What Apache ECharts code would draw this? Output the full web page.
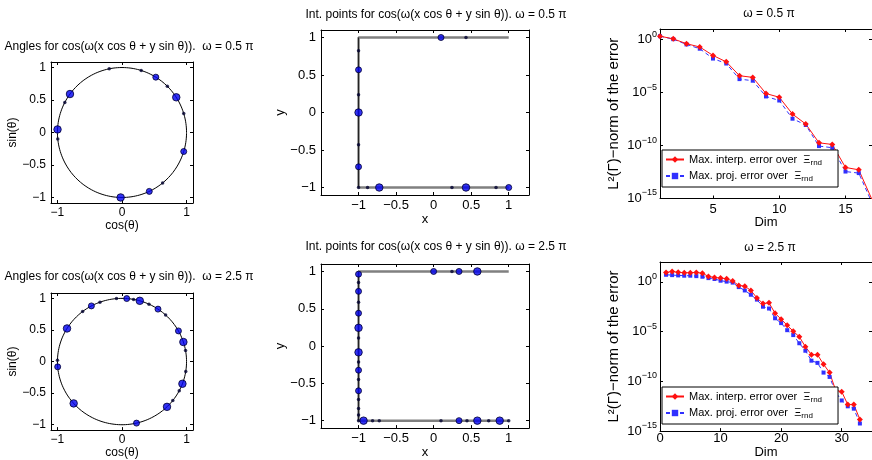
<!DOCTYPE html>
<html><head><meta charset="utf-8">
<script src="https://cdn.jsdelivr.net/npm/echarts@6/dist/echarts.min.js"></script>
<style>html,body{margin:0;padding:0;background:#fff}#c{width:872px;height:460px}</style>
</head><body><div id="c"></div>
<script>
// ---------------- data ----------------
// angles (degrees) of the selected directions, omega = 0.5 pi
const anglesLowLarge  = [143.7, 32.8, 177.3, -91.2];
const anglesLowMedium = [58.4, -17, -65];
const anglesLowSmall  = [101.4, 72.7, 45.4, 17, -51, 152.4, 185.7];
// omega = 2.5 pi
const anglesHighLarge  = [74, 18, -20.6, -45.8, -138.5, 148.4];
const anglesHighMedium = [118.3, 85.8, 56.1, 29, -77, 184.8];
const anglesHighSmall  = [127.6, 110, 94.9, 79.7, 65.3, 47.5, 10.1, -9, -27.5, -38.1, 178.8];

// boundary of the domain (Gamma)
const boundary     = [[1, 1], [-1, 1], [-1, -1], [1, -1]];
const boundaryLeft = [[-1, 1], [-1, -1]];

// interpolation points, omega = 0.5 pi
const ptsLowLarge  = [[-0.724, -1], [0.431, -1], [-1, 0]];
const ptsLowMedium = [[0.098, 1], [-1, 0.569], [-1, -0.724], [1, -1]];
const ptsLowSmall  = [[0.431, 1], [-1, 0.822], [-1, 0.236], [-1, -0.431], [-1, -1], [0.831, -1], [0.244, -1], [-0.88, -1]];
// interpolation points, omega = 2.5 pi
const ptsHighLarge  = [[-1, 0.244], [-1, -0.084], [-0.933, -1], [0.582, -1], [0.88, -1], [0.582, 1]];
const ptsHighMedium = [[-1, 0.964], [-1, 0.733], [-1, 0.44], [-1, -0.324], [-1, -0.6], [0, 1], [0.338, 1], [0.338, -1]];
const ptsHighSmall  = [[-1, 0.853], [-1, 0.587], [-1, 0.107], [-1, -0.213], [-1, -0.449], [-1, -0.716], [-1, -0.836], [-1, -0.924], [-1, -1], [-0.813, -1], [-0.724, -1], [0.098, -1], [0.444, -1], [0.733, -1], [1, -1], [0.244, 1]];

// error curves, omega = 0.5 pi
const dimLow    = [1, 2, 3, 4, 5, 6, 7, 8, 9, 10, 11, 12, 13, 14, 15, 16, 17];
const interpLow = [2.1, 1.17, 0.41, 0.2, 0.032, 0.0079, 3.9e-4, 2.7e-4, 8.1e-6, 3.6e-6, 9.3e-8, 1.07e-8, 1.8e-10, 1.26e-10, 8.5e-13, 5.1e-13, 7.9e-16];
const projLow   = [2.1, 1.1, 0.35, 0.138, 0.0162, 0.0055, 1.86e-4, 1.32e-4, 4.3e-6, 1.78e-6, 3.4e-8, 8.7e-9, 8.9e-11, 6.2e-11, 3.5e-13, 2.5e-13, 4e-16];
// error curves, omega = 2.5 pi
const dimHigh    = [1, 2, 3, 4, 5, 6, 7, 8, 9, 10, 11, 12, 13, 14, 15, 16, 17, 18, 19, 20, 21, 22, 23, 24, 25, 26, 27, 28, 29, 30, 31, 32, 33];
const interpHigh = [8.8, 11, 9.3, 8.3, 8.3, 8.8, 7.6, 3.5, 2.8, 2.4, 2.1, 1.23, 0.44, 0.37, 0.138, 0.0245, 0.0066, 0.0079, 6.9e-4, 1.8e-4, 4.3e-5, 1.1e-5, 3.0e-6, 3.1e-7, 4.8e-8, 4.8e-8, 5.2e-9, 7.6e-10, 1.26e-11, 9.3e-12, 4.6e-13, 4.6e-13, 1.5e-14];
const projHigh   = [5.2, 4.8, 4.5, 4.2, 4.2, 3.8, 3.3, 2.4, 1.95, 1.32, 1.07, 0.85, 0.3, 0.138, 0.051, 0.0166, 0.0032, 0.0021, 2.2e-4, 7.2e-5, 1.4e-5, 4.5e-6, 6.8e-7, 1.2e-7, 1.2e-8, 7.2e-9, 7.6e-10, 2.8e-10, 7.9e-12, 1.2e-12, 3.1e-13, 1.8e-13, 5.8e-15];

// tick values
const circTicksX = [-1, 0, 1];
const circTicksY = [-1, -0.5, 0, 0.5, 1];
const boxTicks   = [-1, -0.5, 0, 0.5, 1];
const dimLowTicks  = [5, 10, 15];
const dimHighTicks = [0, 10, 20, 30];
const logTicks = [1e-15, 1e-10, 1e-5, 1];

const titleTexts = [
  'Angles for cos(ω(x cos θ + y sin θ)).  ω = 0.5 π',
  'Int. points for cos(ω(x cos θ + y sin θ)). ω = 0.5 π',
  'ω = 0.5 π',
  'Angles for cos(ω(x cos θ + y sin θ)).  ω = 2.5 π',
  'Int. points for cos(ω(x cos θ + y sin θ)). ω = 2.5 π',
  'ω = 2.5 π'
];
const nameInterp = 'Max. interp. error over  Ξ';
const nameProj   = 'Max. proj. error over  Ξ';

// ---------------- helpers ----------------
const FONT = '"Liberation Sans", Arial, sans-serif';
const toPoints = degs => degs.map(d => [Math.cos(d * Math.PI / 180), Math.sin(d * Math.PI / 180)]);
const unitCircle = toPoints(Array.from({length: 361}, (_, i) => i));
const minusFmt = v => (v < 0 ? '−' + String(-v) : String(v));
const logFmt = v => {
  const e = v <= 0 ? v : Math.round(Math.log10(v));
  return '{b|10}{e|' + (e < 0 ? '−' + (-e) : e) + '}';
};
const tickStyle = (ticks) => ({show: true, inside: true, length: 3, customValues: ticks, lineStyle: {color: '#000', width: 1}});
const lineAx = {show: true, onZero: false, lineStyle: {color: '#000', width: 1}};

function xPair(g, base, ticks, fmt, fs, margin, name, nameGap, rich, nameFs) {
  const common = Object.assign({gridIndex: g, splitLine: {show: false}, axisLine: lineAx}, base);
  return [
    Object.assign({}, common, {
      position: 'bottom', name: name, nameLocation: 'middle', nameGap: nameGap,
      nameTextStyle: {fontFamily: FONT, fontSize: nameFs || fs, color: '#000'},
      axisTick: tickStyle(ticks),
      axisLabel: {show: true, customValues: ticks, formatter: fmt, margin: margin, color: '#000', fontFamily: FONT, fontSize: fs, rich: rich}
    }),
    Object.assign({}, common, {position: 'top', axisTick: tickStyle(ticks), axisLabel: {show: false}})
  ];
}
function yPair(g, base, ticks, fmt, fs, margin, name, nameGap, rich, nameFs) {
  const common = Object.assign({gridIndex: g, splitLine: {show: false}, axisLine: lineAx}, base);
  return [
    Object.assign({}, common, {
      position: 'left', name: name, nameLocation: 'middle', nameGap: nameGap,
      nameTextStyle: {fontFamily: FONT, fontSize: nameFs || fs, color: '#000'},
      axisTick: tickStyle(ticks),
      axisLabel: {show: true, customValues: ticks, formatter: fmt, margin: margin, color: '#000', fontFamily: FONT, fontSize: fs, rich: rich}
    }),
    Object.assign({}, common, {position: 'right', axisTick: tickStyle(ticks), axisLabel: {show: false}})
  ];
}

const logRich = {
  b: {fontFamily: FONT, fontSize: 13, color: '#000', lineHeight: 20, verticalAlign: 'middle'},
  e: {fontFamily: FONT, fontSize: 9, color: '#000', verticalAlign: 'top'}
};

const grids = [
  {left: 51,  top: 62,  width: 142, height: 141},
  {left: 321, top: 30,  width: 208, height: 165},
  {left: 660, top: 29,  width: 220, height: 169.5},
  {left: 51,  top: 293, width: 142, height: 140},
  {left: 321, top: 264, width: 208, height: 165},
  {left: 660, top: 262, width: 225, height: 172.5}
];

const circX = {type: 'value', min: -1.1, max: 1.1};
const circY = {type: 'value', min: -1.085, max: 1.085};
const boxX = {type: 'value', min: -1.5, max: 1.27};
const boxY = {type: 'value', min: -1.1, max: 1.1};
const logYLow = {type: 'log', logBase: 10, min: 1e-15, max: 10};
const logYHigh = {type: 'log', logBase: 10, min: 1e-15, max: 100};

const xAxes = [].concat(
  xPair(0, circX, circTicksX, minusFmt, 12, 4, 'cos(θ)', 14),
  xPair(1, boxX, boxTicks, minusFmt, 13, 4, 'x', 17),
  xPair(2, {type: 'value', min: 1, max: 17}, dimLowTicks, minusFmt, 13, 4, 'Dim', 13),
  xPair(3, circX, circTicksX, minusFmt, 12, 4, 'cos(θ)', 14),
  xPair(4, boxX, boxTicks, minusFmt, 13, 4, 'x', 16),
  xPair(5, {type: 'value', min: 0, max: 35}, dimHighTicks, minusFmt, 13, 1, 'Dim', 9)
);
const yAxes = [].concat(
  yPair(0, circY, circTicksY, minusFmt, 12, 5, 'sin(θ)', 31),
  yPair(1, boxY, boxTicks, minusFmt, 13, 5, 'y', 32),
  yPair(2, logYLow, logTicks, logFmt, 13, 3, 'L²(Γ)−norm of the error', 39, logRich, 15),
  yPair(3, circY, circTicksY, minusFmt, 12, 5, 'sin(θ)', 31),
  yPair(4, boxY, boxTicks, minusFmt, 13, 5, 'y', 32),
  yPair(5, logYHigh, logTicks, logFmt, 13, 3, 'L²(Γ)−norm of the error', 39, logRich, 15)
);

const ax = g => ({xAxisIndex: 2 * g, yAxisIndex: 2 * g});
const large  = {symbol: 'circle', symbolSize: 7.5, itemStyle: {color: '#0000f0', borderColor: '#000033', borderWidth: 1}};
const medium = {symbol: 'circle', symbolSize: 6,   itemStyle: {color: '#0000f0', borderColor: '#000033', borderWidth: 1}};
const small  = {symbol: 'circle', symbolSize: 3.5, itemStyle: {color: '#000030'}};
function scatter(g, data, style) {
  return Object.assign({type: 'scatter', data: data, silent: true, z: 5}, ax(g), style);
}
function circlePanel(g, L, M, S) {
  return [
    Object.assign({type: 'line', data: unitCircle, showSymbol: false, silent: true, lineStyle: {color: '#000', width: 1}}, ax(g)),
    scatter(g, toPoints(S), small), scatter(g, toPoints(M), medium), scatter(g, toPoints(L), large)
  ];
}
function boxPanel(g, L, M, S) {
  return [
    Object.assign({type: 'line', data: boundary, showSymbol: false, silent: true, lineStyle: {color: '#808080', width: 2.5}}, ax(g)),
    Object.assign({type: 'line', data: boundaryLeft, showSymbol: false, silent: true, lineStyle: {color: '#202020', width: 1}}, ax(g)),
    scatter(g, S, small), scatter(g, M, medium), scatter(g, L, large)
  ];
}
const zip = (xs, ys) => xs.map((x, i) => [x, ys[i]]);
function errPanel(g, dims, interp, proj) {
  return [
    Object.assign({type: 'line', name: nameProj, data: zip(dims, proj), symbol: 'rect', symbolSize: 4, showSymbol: true, silent: true,
      itemStyle: {color: '#3030ff'}, lineStyle: {color: '#3030ff', width: 1, type: [4, 3]}}, ax(g)),
    Object.assign({type: 'line', name: nameInterp, data: zip(dims, interp), symbol: 'diamond', symbolSize: 6, showSymbol: true, silent: true,
      itemStyle: {color: '#ff1010'}, lineStyle: {color: '#ff1010', width: 1}}, ax(g))
  ];
}

const legendBase = {
  orient: 'vertical', data: [nameInterp, nameProj], selectedMode: false,
  backgroundColor: '#fff', borderColor: '#000', borderWidth: 1, padding: [4, 16, 4, 3],
  itemWidth: 18, itemHeight: 8, itemGap: 4,
  formatter: n => '{a|' + n + '}{s|rnd}',
  textStyle: {fontFamily: FONT, fontSize: 11, color: '#000', rich: {
    a: {fontFamily: FONT, fontSize: 11, color: '#000', lineHeight: 14, verticalAlign: 'middle'},
    s: {fontFamily: FONT, fontSize: 8, color: '#000', verticalAlign: 'bottom'}
  }}
};

const titleGraphics = titleTexts.map((t, i) => ({
  type: 'text',
  x: [129, 436, 769, 129, 436, 770][i],
  y: [47, 15, 14, 277, 247, 248][i],
  style: {text: t, fill: '#000', font: '12px ' + FONT, align: 'center', verticalAlign: 'middle'}
}));

const option = {
  animation: false,
  backgroundColor: '#fff',
  grid: grids,
  xAxis: xAxes,
  yAxis: yAxes,
  legend: [
    Object.assign({left: 662, top: 150}, legendBase),
    Object.assign({left: 662, top: 387}, legendBase)
  ],
  graphic: titleGraphics,
  series: [].concat(
    circlePanel(0, anglesLowLarge, anglesLowMedium, anglesLowSmall),
    boxPanel(1, ptsLowLarge, ptsLowMedium, ptsLowSmall),
    errPanel(2, dimLow, interpLow, projLow),
    circlePanel(3, anglesHighLarge, anglesHighMedium, anglesHighSmall),
    boxPanel(4, ptsHighLarge, ptsHighMedium, ptsHighSmall),
    errPanel(5, dimHigh, interpHigh, projHigh)
  )
};
const chart = echarts.init(document.getElementById('c'), null, {renderer: 'canvas'});
chart.setOption(option);
</script></body></html>
